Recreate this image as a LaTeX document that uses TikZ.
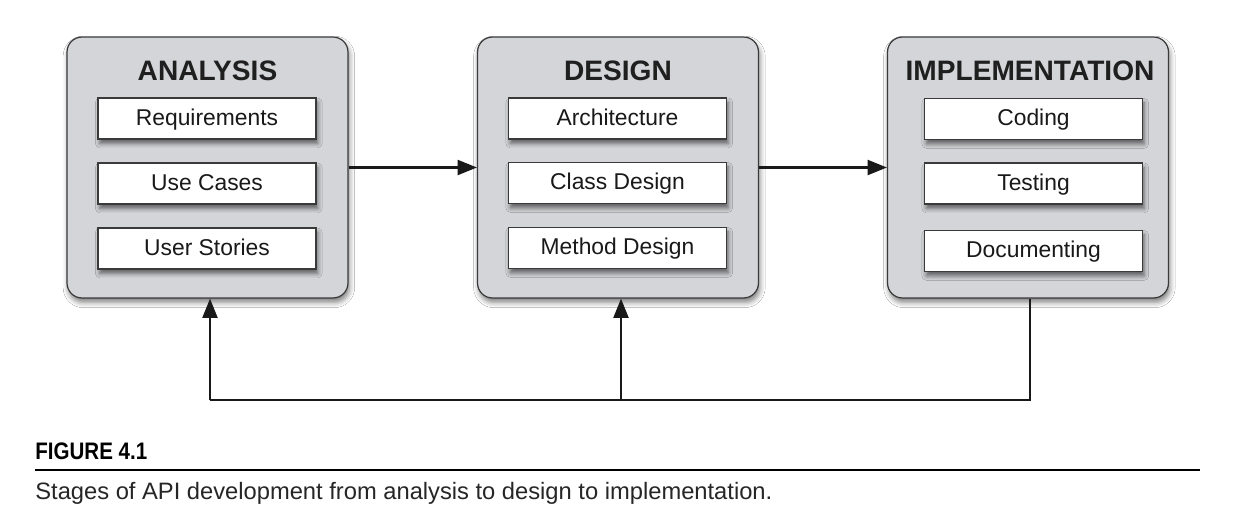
\documentclass[tikz,border=0pt]{standalone}
\usepackage{fontspec}
\setmainfont{Liberation Sans}
\newfontfamily\capfont[FakeStretch=0.86]{Liberation Sans}
\newfontfamily\captextfont[FakeStretch=1.0]{Liberation Sans}
\usetikzlibrary{shadows.blur,arrows.meta}
\definecolor{stagefill}{HTML}{D4D5D8}
\definecolor{edgegray}{HTML}{3A3A3A}
\tikzset{
  stage/.style={draw=edgegray, line width=0.7pt, fill=stagefill, rounded corners=8.5pt,
    minimum width=5.62cm, minimum height=5.22cm, inner sep=0pt,
    blur shadow={shadow xshift=0.8pt, shadow yshift=-2.5pt, shadow blur radius=3pt, shadow opacity=50}},
  stagetitle/.style={font=\fontsize{16pt}{18pt}\selectfont\bfseries, text=black!88, inner sep=0pt},
  task/.style={draw=edgegray, line width=0.7pt, fill=white, minimum width=4.36cm, minimum height=0.82cm,
    inner sep=0pt, text height=0.95em, text depth=0.2em, font=\fontsize{13pt}{15pt}\selectfont, text=black!90,
    blur shadow={shadow xshift=1pt, shadow yshift=-2.5pt, shadow blur radius=2.5pt, shadow opacity=55}},
  arr/.style={line width=1.4pt, draw=black!90, -{Triangle[length=11pt, width=8.5pt]}},
  plain/.style={line width=1.4pt, draw=black!90},
}
\begin{document}
\begin{tikzpicture}[x=0.02cm, y=-0.02cm]
\useasboundingbox[fill=white] (0,0) rectangle (1250,528);
% stages
\node[stage] (ana) at (207.5,167.5) {};
\node[stage] (des) at (618,167.5) {};
\node[stage] (imp) at (1028,167.5) {};
\node[stagetitle] (anat) at (207.5,71) {ANALYSIS};
\node[stagetitle] (dest) at (618,71) {DESIGN};
\node[stagetitle] (impt) at (1030,71) {IMPLEMENTATION};
% tasks
\node[task] (a1) at (207,118.5) {Requirements};
\node[task] (a2) at (207,183.5) {Use Cases};
\node[task] (a3) at (207,248.5) {User Stories};
\node[task] (d1) at (617.5,118.5) {Architecture};
\node[task] (d2) at (617.5,183) {Class Design};
\node[task] (d3) at (617.5,248) {Method Design};
\node[task] (i1) at (1033.5,119) {Coding};
\node[task] (i2) at (1033.5,183.5) {Testing};
\node[task] (i3) at (1033.5,251) {Documenting};
% forward arrows
\draw[arr] (ana.east) -- (des.west);
\draw[arr] (des.east) -- (imp.west);
% feedback
\coordinate (fi) at (1030,400);
\coordinate (fd) at (621,400);
\coordinate (fa) at (210,400);
\draw[plain] (fi |- imp.south) -- (fi) -- (fa);
\draw[arr] (fa) -- (fa |- ana.south);
\draw[arr] (fd) -- (fd |- des.south);
% caption
\node[anchor=west, inner sep=0pt, font=\capfont\fontsize{13.6pt}{15pt}\selectfont\bfseries] (figlab) at (35,451) {FIGURE 4.1};
\coordinate (rl) at (35,470);
\coordinate (rr) at (1200,470);
\draw[line width=1.2pt] (rl) -- (rr);
\node[anchor=west, inner sep=0pt, font=\captextfont\fontsize{13.5pt}{15pt}\selectfont, text=black!85] (cap) at (35,493) {Stages of API development from analysis to design to implementation.};
\end{tikzpicture}
\end{document}
